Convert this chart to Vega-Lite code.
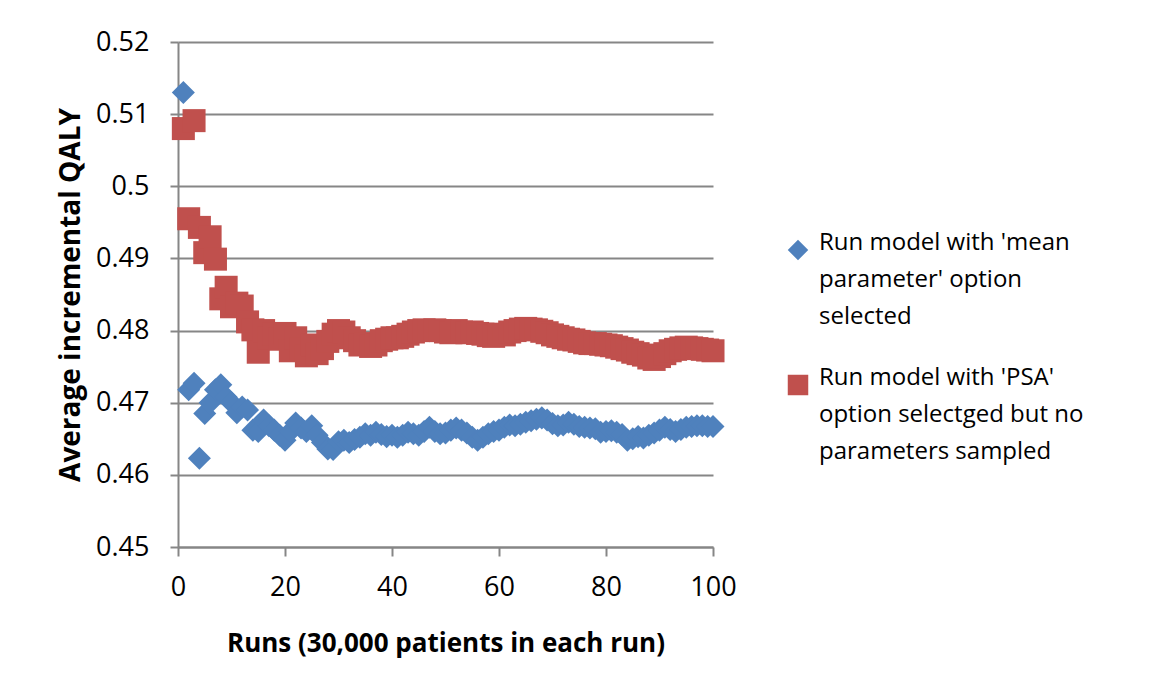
{
  "$schema": "https://vega.github.io/schema/vega-lite/v6.json",
  "width": 535,
  "height": 505,
  "autosize": {"type": "none"},
  "padding": {"left": 178, "top": 42, "right": 436, "bottom": 144},
  "background": "white",
  "config": {
    "view": {"stroke": null},
    "font": "Open Sans",
    "style": {"guide-label": {"lineHeight": 37}},
    "axis": {
      "domainColor": "#868686",
      "domainWidth": 2,
      "gridColor": "#868686",
      "gridWidth": 2,
      "tickColor": "#868686",
      "tickWidth": 2,
      "tickSize": 9,
      "labelFont": "Open Sans",
      "labelFontSize": 27,
      "labelColor": "#000000",
      "titleFont": "Open Sans",
      "titleFontWeight": "bold",
      "titleColor": "#000000"
    }
  },
  "data": {
    "values": [
      {"run":1,"value":0.5130,"series":"mean"},{"run":2,"value":0.4718,"series":"mean"},{"run":3,"value":0.4727,"series":"mean"},{"run":4,"value":0.4623,"series":"mean"},{"run":5,"value":0.4685,"series":"mean"},
      {"run":6,"value":0.4700,"series":"mean"},{"run":7,"value":0.4718,"series":"mean"},{"run":8,"value":0.4725,"series":"mean"},{"run":9,"value":0.4708,"series":"mean"},{"run":10,"value":0.4700,"series":"mean"},
      {"run":11,"value":0.4686,"series":"mean"},{"run":12,"value":0.4694,"series":"mean"},{"run":13,"value":0.4690,"series":"mean"},{"run":14,"value":0.4662,"series":"mean"},{"run":15,"value":0.4660,"series":"mean"},
      {"run":16,"value":0.4676,"series":"mean"},{"run":17,"value":0.4668,"series":"mean"},{"run":18,"value":0.4662,"series":"mean"},{"run":19,"value":0.4655,"series":"mean"},{"run":20,"value":0.4648,"series":"mean"},
      {"run":21,"value":0.4660,"series":"mean"},{"run":22,"value":0.4672,"series":"mean"},{"run":23,"value":0.4665,"series":"mean"},{"run":24,"value":0.4660,"series":"mean"},{"run":25,"value":0.4668,"series":"mean"},
      {"run":26,"value":0.4655,"series":"mean"},{"run":27,"value":0.4645,"series":"mean"},{"run":28,"value":0.4636,"series":"mean"},{"run":29,"value":0.4635,"series":"mean"},{"run":30,"value":0.4646,"series":"mean"},
      {"run":31,"value":0.4648,"series":"mean"},{"run":32,"value":0.4645,"series":"mean"},{"run":33,"value":0.4649,"series":"mean"},{"run":34,"value":0.4652,"series":"mean"},{"run":35,"value":0.4657,"series":"mean"},
      {"run":36,"value":0.4655,"series":"mean"},{"run":37,"value":0.4659,"series":"mean"},{"run":38,"value":0.4656,"series":"mean"},{"run":39,"value":0.4653,"series":"mean"},{"run":40,"value":0.4655,"series":"mean"},
      {"run":41,"value":0.4652,"series":"mean"},{"run":42,"value":0.4655,"series":"mean"},{"run":43,"value":0.4659,"series":"mean"},{"run":44,"value":0.4657,"series":"mean"},{"run":45,"value":0.4655,"series":"mean"},
      {"run":46,"value":0.4660,"series":"mean"},{"run":47,"value":0.4666,"series":"mean"},{"run":48,"value":0.4660,"series":"mean"},{"run":49,"value":0.4657,"series":"mean"},{"run":50,"value":0.4658,"series":"mean"},
      {"run":51,"value":0.4662,"series":"mean"},{"run":52,"value":0.4665,"series":"mean"},{"run":53,"value":0.4662,"series":"mean"},{"run":54,"value":0.4658,"series":"mean"},{"run":55,"value":0.4652,"series":"mean"},
      {"run":56,"value":0.4648,"series":"mean"},{"run":57,"value":0.4652,"series":"mean"},{"run":58,"value":0.4657,"series":"mean"},{"run":59,"value":0.4660,"series":"mean"},{"run":60,"value":0.4662,"series":"mean"},
      {"run":61,"value":0.4666,"series":"mean"},{"run":62,"value":0.4669,"series":"mean"},{"run":63,"value":0.4668,"series":"mean"},{"run":64,"value":0.4670,"series":"mean"},{"run":65,"value":0.4673,"series":"mean"},
      {"run":66,"value":0.4675,"series":"mean"},{"run":67,"value":0.4677,"series":"mean"},{"run":68,"value":0.4679,"series":"mean"},{"run":69,"value":0.4676,"series":"mean"},{"run":70,"value":0.4671,"series":"mean"},
      {"run":71,"value":0.4668,"series":"mean"},{"run":72,"value":0.4669,"series":"mean"},{"run":73,"value":0.4673,"series":"mean"},{"run":74,"value":0.4670,"series":"mean"},{"run":75,"value":0.4667,"series":"mean"},
      {"run":76,"value":0.4666,"series":"mean"},{"run":77,"value":0.4665,"series":"mean"},{"run":78,"value":0.4664,"series":"mean"},{"run":79,"value":0.4659,"series":"mean"},{"run":80,"value":0.4660,"series":"mean"},
      {"run":81,"value":0.4661,"series":"mean"},{"run":82,"value":0.4659,"series":"mean"},{"run":83,"value":0.4656,"series":"mean"},{"run":84,"value":0.4648,"series":"mean"},{"run":85,"value":0.4650,"series":"mean"},
      {"run":86,"value":0.4653,"series":"mean"},{"run":87,"value":0.4651,"series":"mean"},{"run":88,"value":0.4655,"series":"mean"},{"run":89,"value":0.4658,"series":"mean"},{"run":90,"value":0.4662,"series":"mean"},
      {"run":91,"value":0.4666,"series":"mean"},{"run":92,"value":0.4663,"series":"mean"},{"run":93,"value":0.4660,"series":"mean"},{"run":94,"value":0.4663,"series":"mean"},{"run":95,"value":0.4666,"series":"mean"},
      {"run":96,"value":0.4667,"series":"mean"},{"run":97,"value":0.4668,"series":"mean"},{"run":98,"value":0.4668,"series":"mean"},{"run":99,"value":0.4667,"series":"mean"},{"run":100,"value":0.4667,"series":"mean"},
      {"run":1,"value":0.5080,"series":"psa"},{"run":2,"value":0.4955,"series":"psa"},{"run":3,"value":0.5091,"series":"psa"},{"run":4,"value":0.4943,"series":"psa"},{"run":5,"value":0.4908,"series":"psa"},
      {"run":6,"value":0.4930,"series":"psa"},{"run":7,"value":0.4899,"series":"psa"},{"run":8,"value":0.4844,"series":"psa"},{"run":9,"value":0.4860,"series":"psa"},{"run":10,"value":0.4833,"series":"psa"},
      {"run":11,"value":0.4838,"series":"psa"},{"run":12,"value":0.4834,"series":"psa"},{"run":13,"value":0.4812,"series":"psa"},{"run":14,"value":0.4801,"series":"psa"},{"run":15,"value":0.4770,"series":"psa"},
      {"run":16,"value":0.4800,"series":"psa"},{"run":17,"value":0.4790,"series":"psa"},{"run":18,"value":0.4795,"series":"psa"},{"run":19,"value":0.4788,"series":"psa"},{"run":20,"value":0.4796,"series":"psa"},
      {"run":21,"value":0.4772,"series":"psa"},{"run":22,"value":0.4790,"series":"psa"},{"run":23,"value":0.4775,"series":"psa"},{"run":24,"value":0.4765,"series":"psa"},{"run":25,"value":0.4780,"series":"psa"},
      {"run":26,"value":0.4768,"series":"psa"},{"run":27,"value":0.4775,"series":"psa"},{"run":28,"value":0.4785,"series":"psa"},{"run":29,"value":0.4795,"series":"psa"},{"run":30,"value":0.4800,"series":"psa"},
      {"run":31,"value":0.4798,"series":"psa"},{"run":32,"value":0.4790,"series":"psa"},{"run":33,"value":0.4786,"series":"psa"},{"run":34,"value":0.4780,"series":"psa"},{"run":35,"value":0.4782,"series":"psa"},
      {"run":36,"value":0.4778,"series":"psa"},{"run":37,"value":0.4780,"series":"psa"},{"run":38,"value":0.4786,"series":"psa"},{"run":39,"value":0.4788,"series":"psa"},{"run":40,"value":0.4790,"series":"psa"},
      {"run":41,"value":0.4790,"series":"psa"},{"run":42,"value":0.4792,"series":"psa"},{"run":43,"value":0.4795,"series":"psa"},{"run":44,"value":0.4798,"series":"psa"},{"run":45,"value":0.4800,"series":"psa"},
      {"run":46,"value":0.4801,"series":"psa"},{"run":47,"value":0.4800,"series":"psa"},{"run":48,"value":0.4801,"series":"psa"},{"run":49,"value":0.4800,"series":"psa"},{"run":50,"value":0.4798,"series":"psa"},
      {"run":51,"value":0.4797,"series":"psa"},{"run":52,"value":0.4800,"series":"psa"},{"run":53,"value":0.4798,"series":"psa"},{"run":54,"value":0.4797,"series":"psa"},{"run":55,"value":0.4798,"series":"psa"},
      {"run":56,"value":0.4796,"series":"psa"},{"run":57,"value":0.4795,"series":"psa"},{"run":58,"value":0.4793,"series":"psa"},{"run":59,"value":0.4792,"series":"psa"},{"run":60,"value":0.4795,"series":"psa"},
      {"run":61,"value":0.4794,"series":"psa"},{"run":62,"value":0.4798,"series":"psa"},{"run":63,"value":0.4800,"series":"psa"},{"run":64,"value":0.4802,"series":"psa"},{"run":65,"value":0.4803,"series":"psa"},
      {"run":66,"value":0.4802,"series":"psa"},{"run":67,"value":0.4801,"series":"psa"},{"run":68,"value":0.4799,"series":"psa"},{"run":69,"value":0.4797,"series":"psa"},{"run":70,"value":0.4794,"series":"psa"},
      {"run":71,"value":0.4792,"series":"psa"},{"run":72,"value":0.4790,"series":"psa"},{"run":73,"value":0.4788,"series":"psa"},{"run":74,"value":0.4787,"series":"psa"},{"run":75,"value":0.4785,"series":"psa"},
      {"run":76,"value":0.4783,"series":"psa"},{"run":77,"value":0.4782,"series":"psa"},{"run":78,"value":0.4782,"series":"psa"},{"run":79,"value":0.4781,"series":"psa"},{"run":80,"value":0.4780,"series":"psa"},
      {"run":81,"value":0.4779,"series":"psa"},{"run":82,"value":0.4777,"series":"psa"},{"run":83,"value":0.4775,"series":"psa"},{"run":84,"value":0.4773,"series":"psa"},{"run":85,"value":0.4770,"series":"psa"},
      {"run":86,"value":0.4768,"series":"psa"},{"run":87,"value":0.4766,"series":"psa"},{"run":88,"value":0.4762,"series":"psa"},{"run":89,"value":0.4760,"series":"psa"},{"run":90,"value":0.4764,"series":"psa"},
      {"run":91,"value":0.4768,"series":"psa"},{"run":92,"value":0.4772,"series":"psa"},{"run":93,"value":0.4774,"series":"psa"},{"run":94,"value":0.4776,"series":"psa"},{"run":95,"value":0.4777,"series":"psa"},
      {"run":96,"value":0.4776,"series":"psa"},{"run":97,"value":0.4775,"series":"psa"},{"run":98,"value":0.4774,"series":"psa"},{"run":99,"value":0.4773,"series":"psa"},{"run":100,"value":0.4772,"series":"psa"}
    ]
  },
  "mark": {"type": "point", "filled": true, "opacity": 1, "size": 530},
  "encoding": {
    "x": {
      "field": "run",
      "type": "quantitative",
      "scale": {"domain": [0, 100], "nice": false, "zero": false},
      "axis": {
        "title": "Runs (30,000 patients in each run)",
        "titleFontSize": 26,
        "values": [0, 20, 40, 60, 80, 100],
        "grid": false,
        "labelPadding": 18,
        "titlePadding": 30,
        "labelFlush": false
      }
    },
    "y": {
      "field": "value",
      "type": "quantitative",
      "scale": {"domain": [0.45, 0.52], "nice": false, "zero": false},
      "axis": {
        "title": "Average incremental QALY",
        "titleFontSize": 28,
        "values": [0.45, 0.46, 0.47, 0.48, 0.49, 0.5, 0.51, 0.52],
        "format": ".2~f",
        "grid": true,
        "tickSize": 8,
        "labelPadding": 21,
        "titlePadding": 10,
        "labelFlush": false
      }
    },
    "color": {
      "field": "series",
      "type": "nominal",
      "scale": {"domain": ["mean", "psa"], "range": ["#4F81BD", "#C0504D"]},
      "legend": {
        "title": null,
        "orient": "none",
        "legendX": 608,
        "legendY": 196,
        "padding": 0,
        "labelFont": "Open Sans",
        "labelFontSize": 24,
        "labelColor": "#000000",
        "labelLimit": 0,
        "labelBaseline": "alphabetic",
        "labelOffset": 9,
        "symbolSize": 420,
        "rowPadding": 37,
        "labelExpr": "datum.value == 'mean' ? ['Run model with \\'mean', 'parameter\\' option', 'selected'] : ['Run model with \\'PSA\\'', 'option selectged but no', 'parameters sampled']"
      }
    },
    "shape": {
      "field": "series",
      "type": "nominal",
      "scale": {"domain": ["mean", "psa"], "range": ["diamond", "square"]},
      "legend": null
    }
  }
}
